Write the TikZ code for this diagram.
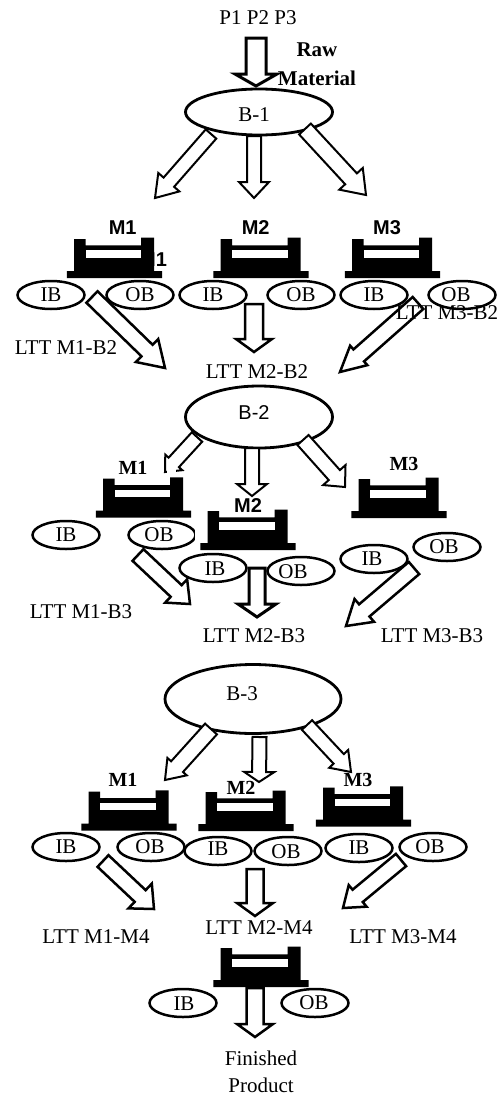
\documentclass[tikz,border=0pt]{standalone}
\usepackage{fontspec}
\setmainfont{Liberation Serif}
\setsansfont{Liberation Sans}
\usetikzlibrary{calc, shapes.geometric}
\tikzset{
    flow/.style n args={3}{draw, fill=white, line join=miter, to path={
        let \p1=($(\tikztotarget)-(\tikztostart)$), \n1={atan2(\y1,\x1)}, \n2={veclen(\x1,\y1)} in
        ($(\tikztostart)+(\n1+90:#1pt)$)
        -- ($(\tikztostart)+(\n1:{\n2-#3pt})+(\n1+90:#1pt)$)
        -- ($(\tikztostart)+(\n1:{\n2-#3pt})+(\n1+90:#2pt)$)
        -- (\tikztotarget)
        -- ($(\tikztostart)+(\n1:{\n2-#3pt})+(\n1-90:#2pt)$)
        -- ($(\tikztostart)+(\n1:{\n2-#3pt})+(\n1-90:#1pt)$)
        -- ($(\tikztostart)+(\n1-90:#1pt)$) -- cycle}},
    buffer/.style={draw, ellipse, fill=white, line width=2.5pt, inner sep=0pt, minimum width=67pt, minimum height=28pt},
    bin/.style={draw, ellipse, line width=2.8pt, inner sep=0pt},
    txt/.style={font=\fontsize{21}{24}\selectfont, inner sep=0pt},
    lab/.style={font=\fontsize{20}{24}\selectfont\bfseries, inner sep=0pt},
    labsf/.style={font=\fontsize{20}{24}\selectfont\sffamily\bfseries, inner sep=0pt},
    machine/.pic={
        \fill[black] (-47.7,0) -- (47.7,0) -- (47.7,-7) -- (39.5,-7) -- (39.5,-40.3) -- (26.5,-40.3)
            -- (26.5,-32.7) -- (-28.8,-32.7) -- (-28.8,-39) -- (-40.5,-39) -- (-40.5,-7) -- (-47.7,-7) -- cycle;
        \fill[white] (-28.8,-20.3) rectangle (26.5,-27.7);
    }
}
\begin{document}
\begin{tikzpicture}[x=1pt, y=-1pt]
    \useasboundingbox (0,0) rectangle (499,1095);

    \node[txt] (lttab) at (66,348) {LTT M1-B2};
    \node[txt] (lttbb) at (257,372) {LTT M2-B2};
    \node[txt] (lttac) at (81,612) {LTT M1-B3};
    \node[txt] (lttbc) at (254,636) {LTT M2-B3};
    \node[txt] (lttcc) at (432,636) {LTT M3-B3};
    \node[txt] (lttad) at (96,937) {LTT M1-M4};
    \node[txt] (lttbd) at (259,928) {LTT M2-M4};
    \node[txt] (lttcd) at (403,937) {LTT M3-M4};
    \node[labsf] (hidden) at (153,260) {M1};

    \node[txt] (parts) at (258,18) {P1 P2 P3};
    \node[txt, font=\fontsize{21}{24}\selectfont\bfseries] (raw) at (317,50) {Raw};
    \node[txt, font=\fontsize{21}{24}\selectfont\bfseries] (material) at (317,78) {Material};
    \node[txt] (finished) at (261,1058) {Finished};
    \node[txt] (product) at (261,1085) {Product};

    \node[bin, minimum width=147pt, minimum height=46pt] (ba) at (259,112) {};
    \node[bin, minimum width=147pt, minimum height=62pt] (bb) at (259,417) {};
    \node[bin, minimum width=176pt, minimum height=69pt] (bc) at (253,699) {};
    \node[txt] (balab) at (254,115) {B-1};
    \node[labsf, font=\fontsize{20}{24}\selectfont\sffamily] (bblab) at (254,413) {B-2};
    \node[txt] (bclab) at (242,694) {B-3};

    \coordinate (rawtip) at (256,86);
    \coordinate (aatip) at (155,198);
    \coordinate (abtip) at (254,198);
    \coordinate (actip) at (366,195);
    \coordinate (adtip) at (165,368);
    \coordinate (aetip) at (254,352);
    \coordinate (afstart) at (418,303);
    \coordinate (aftip) at (340,372);
    \coordinate (bgtip) at (165,472);
    \coordinate (bhtip) at (252,496);
    \coordinate (bitip) at (345,487);
    \coordinate (bjtip) at (190,604);
    \coordinate (bktip) at (257,617);
    \coordinate (bltip) at (346,626);
    \coordinate (cmtip) at (165,780);
    \coordinate (cntip) at (259,782);
    \coordinate (cotip) at (351,772);
    \coordinate (cptip) at (154,909);
    \coordinate (cqtip) at (255,916);
    \coordinate (crtip) at (343,908);
    \coordinate (dstip) at (255,1037);

    \draw[flow={10}{21}{12}, line width=3pt] ($(parts)+(-2,20)$) to (rawtip);
    \draw[flow={7}{14}{21}, line width=2pt] ($(ba)+(-48,22)$) to (aatip);
    \draw[flow={7}{15}{16}, line width=2pt] ($(ba)+(-5,24)$) to (abtip);
    \draw[flow={8}{16}{22}, line width=2pt] ($(ba)+(46,17)$) to (actip);
    \draw[flow={8}{16}{25}, line width=2.5pt] ($(lttab)+(26,-51)$) to (adtip);
    \draw[flow={9}{18}{13}, line width=2.5pt] ($(lttbb)+(-3,-68)$) to (aetip);
    \draw[flow={8}{13}{25}, line width=2.5pt] (afstart) to (aftip);
    \draw[flow={7}{11.5}{13}, line width=2pt] ($(bb)+(-62,20)$) to (bgtip);
    \fill[white] (166.5,469) rectangle (176,474);
    \draw[flow={7}{15}{12}, line width=2pt] ($(bb)+(-7,31)$) to (bhtip);
    \draw[flow={7.5}{15}{16}, line width=2pt] ($(bb)+(44,23)$) to (bitip);
    \draw[flow={8}{16}{19}, line width=2.5pt] ($(lttac)+(57,-57)$) to (bjtip);
    \draw[flow={8}{19}{13}, line width=3pt] ($(lttbc)+(3,-68)$) to (bktip);
    \draw[flow={8}{15}{24}, line width=2.5pt] ($(lttcc)+(-18,-68)$) to (bltip);
    \draw[flow={8}{13}{18}, line width=2pt] ($(bc)+(-42,30)$) to (cmtip);
    \draw[flow={7}{15}{10}, line width=2pt] ($(bc)+(6.5,38)$) to (cntip);
    \draw[flow={7}{13}{18}, line width=2pt] ($(bc)+(54,26)$) to (cotip);
    \draw[flow={8}{17}{19}, line width=2.5pt] ($(lttad)+(7,-76)$) to (cptip);
    \draw[flow={8.5}{18}{13}, line width=2.5pt] ($(lttbd)+(-4,-59)$) to (cqtip);
    \draw[flow={8}{14}{19}, line width=2.5pt] ($(lttcd)+(-2,-77)$) to (crtip);
    \draw[flow={8.5}{18}{13}, line width=2.5pt] ($(finished)+(-6,-70)$) to (dstip);

    \pic at (114.5,278) {machine};
    \pic at (261,278) {machine};
    \pic at (392.5,278) {machine};
    \pic at (143.5,517.7) {machine};
    \pic at (248,550) {machine};
    \pic at (399,518) {machine};
    \pic at (129,830.7) {machine};
    \pic at (246,831) {machine};
    \pic at (363.5,826.7) {machine};
    \pic at (261,987) {machine};

    \node[labsf] (maa) at (122.7,228) {M1};
    \node[labsf] (mab) at (255.7,228) {M2};
    \node[labsf] (mac) at (387,228) {M3};
    \node[lab] (mba) at (133,468) {M1};
    \node[labsf] (mbb) at (248,506) {M2};
    \node[lab] (mbc) at (404,464) {M3};
    \node[lab] (mca) at (123,780) {M1};
    \node[lab] (mcb) at (241,788) {M2};
    \node[lab] (mcc) at (358,780) {M3};

    \node[buffer] (iaa) at (51,295) {}; \node[txt] at (iaa) {IB};
    \node[buffer] (oaa) at (140,295) {}; \node[txt] at (oaa) {OB};
    \node[buffer] (iab) at (213,295) {}; \node[txt] at (iab) {IB};
    \node[buffer] (oab) at (301,295) {}; \node[txt] at (oab) {OB};
    \node[buffer] (iac) at (374,295) {}; \node[txt] at (iac) {IB};
    \node[buffer] (oac) at (462,295) {};

    \node[buffer] (iba) at (66,535) {}; \node[txt] at (iba) {IB};
    \node[buffer] (oba) at (162,535) {}; \node[txt] (obalab) at (159,535) {OB};
    \fill[white] (195,515) rectangle (199.5,555);
    \node[buffer] (ibb) at (213,568) {}; \node[txt] (ibblab) at (215,569) {IB};
    \node[buffer] (obb) at (301,571) {}; \node[txt] (obblab) at (293,572) {OB};
    \node[buffer] (ibc) at (374,559) {}; \node[txt] (ibclab) at (372,559) {IB};
    \node[buffer] (obc) at (447,547) {}; \node[txt] (obclab) at (444,547) {OB};

    \node[buffer] (ica) at (66,847) {}; \node[txt] at (ica) {IB};
    \node[buffer] (oca) at (151,847) {}; \node[txt] (ocalab) at (150,847) {OB};
    \node[buffer] (icb) at (218,851) {}; \node[txt] (icblab) at (218,849) {IB};
    \node[buffer] (ocb) at (288,851) {}; \node[txt] (ocblab) at (286,852) {OB};
    \node[buffer] (icc) at (359,848) {}; \node[txt] at (icc) {IB};
    \node[buffer] (occ) at (433,847) {}; \node[txt] (occlab) at (430,847) {OB};

    \node[buffer] (ida) at (183,1003) {}; \node[txt] (idalab) at (184,1004) {IB};
    \node[buffer] (odb) at (315,1003) {}; \node[txt] (odblab) at (314,1003) {OB};

    \node[txt] (oaclab) at (456,295) {OB};
    \node[txt] (lttcb) at (447,313) {LTT M3-B2};
\end{tikzpicture}
\end{document}
